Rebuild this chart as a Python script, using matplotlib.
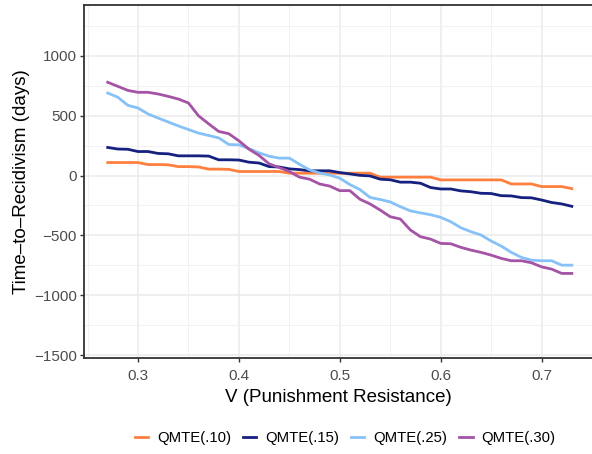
import numpy as np
import matplotlib
matplotlib.use("Agg")
import matplotlib.pyplot as plt
from matplotlib.ticker import MultipleLocator

v = [round(0.27 + 0.01 * i, 2) for i in range(47)]

qmte10 = [109, 109, 109, 109, 92, 92, 90, 75, 75, 72, 54, 54, 52, 34, 34, 34, 34, 34,
          20, 20, 20, 20, 20, 20, 20, 20, 20, -13, -13, -13, -13, -13, -13,
          -36, -36, -36, -36, -36, -36, -36, -70, -70, -70, -92, -92, -92, -109]
qmte15 = [235, 222, 220, 201, 201, 185, 182, 165, 165, 165, 163, 132, 132, 130, 112, 105,
          75, 72, 56, 50, 40, 40, 40, 25, 14, 2, -3, -30, -35, -55, -55, -64, -100,
          -112, -112, -128, -135, -148, -150, -168, -170, -184, -186, -204, -225, -237, -257]
qmte25 = [690, 655, 587, 565, 515, 481, 448, 415, 385, 355, 335, 315, 260, 257, 225, 190,
          162, 146, 146, 95, 48, 22, 5, -22, -75, -117, -183, -200, -220, -260, -295,
          -312, -327, -349, -386, -436, -469, -497, -547, -589, -642, -684, -707, -712,
          -712, -749, -749]
qmte30 = [780, 746, 712, 696, 696, 682, 662, 640, 607, 500, 433, 369, 350, 291, 221, 168,
          98, 67, 34, -13, -30, -70, -88, -126, -126, -198, -237, -288, -344, -363, -455,
          -511, -531, -567, -570, -600, -623, -642, -665, -692, -712, -712, -729, -763,
          -782, -818, -818]

series_labels = ["QMTE(.10)", "QMTE(.15)", "QMTE(.25)", "QMTE(.30)"]
series_values = [qmte10, qmte15, qmte25, qmte30]
colors = ["#FF7F3E", "#16217F", "#86C1F8", "#A553A5"]

x_ticks = [0.3, 0.4, 0.5, 0.6, 0.7]
y_ticks = [-1500, -1000, -500, 0, 500, 1000]

plt.rcParams["font.family"] = ["Liberation Sans", "DejaVu Sans"]

fig = plt.figure(figsize=(5.92, 4.54), dpi=100)
ax = fig.add_axes([84 / 592, 1 - 358 / 454, 1 - 84 / 592, (358 - 5) / 454])

for vals, lab, col in zip(series_values, series_labels, colors):
    ax.plot(v, vals, color=col, lw=2.0, label=lab, solid_joinstyle="round")

ax.set_xlim(0.2465, 0.75)
ax.set_ylim(-1525, 1426)
ax.set_xticks(x_ticks)
ax.set_xticklabels([f"{t:.1f}" for t in x_ticks])
ax.set_yticks(y_ticks)
ax.set_yticklabels([str(t).replace("-", "\u2212") for t in y_ticks])
ax.xaxis.set_minor_locator(MultipleLocator(0.05))
ax.yaxis.set_minor_locator(MultipleLocator(250))

ax.grid(which="major", color="#EBEBEB", lw=1.1)
ax.grid(which="minor", color="#F2F2F2", lw=0.7)
ax.set_axisbelow(True)

for side in ["left", "bottom", "top"]:
    ax.spines[side].set_color("#333333")
    ax.spines[side].set_linewidth(1.3)
ax.spines["right"].set_visible(False)

ax.tick_params(which="major", length=3, width=1, color="#333333",
               labelcolor="#4D4D4D", labelsize=11, pad=2)
ax.tick_params(axis="x", which="major", pad=5)
ax.tick_params(which="minor", length=0)

ax.set_xlabel("V (Punishment Resistance)", fontsize=13.5, color="black", labelpad=4)
ax.set_ylabel("Time\u2013to\u2013Recidivism (days)", fontsize=13.5, color="black", labelpad=3)

leg = fig.legend(loc="center", bbox_to_anchor=(0.583, 1 - 438 / 454), ncol=4,
                 frameon=False, fontsize=10.7, handlelength=0.9, handletextpad=0.6,
                 columnspacing=0.8)

fig.savefig("out.png", dpi=100)
